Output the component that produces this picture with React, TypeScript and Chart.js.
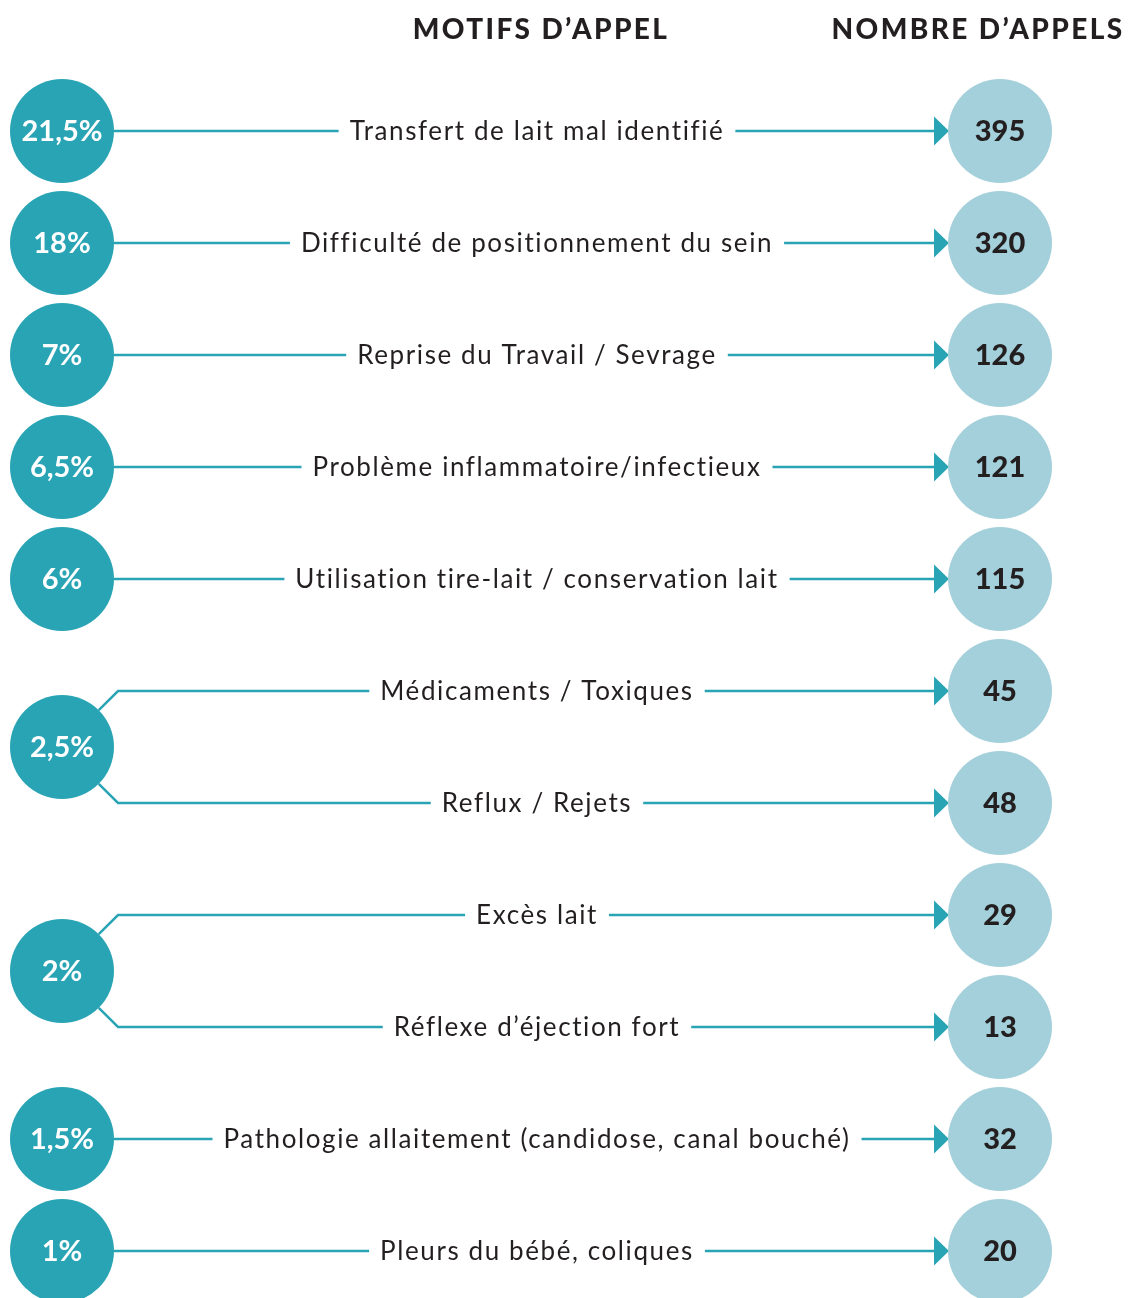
import { useEffect, useRef } from "react";
import { Chart, registerables } from "chart.js";

Chart.register(...registerables);

// ---- Data ----
const titres = ["MOTIFS D’APPEL", "NOMBRE D’APPELS"];
const motifs = [
  "Transfert de lait mal identifié",
  "Difficulté de positionnement du sein",
  "Reprise du Travail / Sevrage",
  "Problème inflammatoire/infectieux",
  "Utilisation tire-lait / conservation lait",
  "Médicaments / Toxiques",
  "Reflux / Rejets",
  "Excès lait",
  "Réflexe d’éjection fort",
  "Pathologie allaitement (candidose, canal bouché)",
  "Pleurs du bébé, coliques",
];
const nombres = [395, 320, 126, 121, 115, 45, 48, 29, 13, 32, 20];
const pourcentages = ["21,5%", "18%", "7%", "6,5%", "6%", "2,5%", "2%", "1,5%", "1%"];
const groupesLignes = [[0], [1], [2], [3], [4], [5, 6], [7, 8], [9], [10]];

// ---- Layout / style ----
const W = 1129;
const H = 1298;
const ROW0 = 131;
const ROWSTEP = 112;
const LEFT_X = 62;
const RIGHT_X = 1000;
const TEXT_X = 537;
const R = 52;
const GAP = 11;
const ARROW_L = 14;
const ARROW_H = 14.5;
const TEAL = "#29a4b4";
const LIGHT = "#a3d0db";
const DARK = "#231f20";
const FONT_LABEL = "400 26px Lato";
const LS_LABEL = "1.6px";
const FONT_PCT = "700 29px Lato";
const FONT_NUM = "900 29px Lato";
const FONT_TITLE = "900 28px Lato";

const mean = (g: number[]) => g.reduce((a, b) => a + b, 0) / g.length;

const infographie = {
  id: "infographie",
  beforeDatasetsDraw(chart: any) {
    const ctx = chart.ctx as CanvasRenderingContext2D;
    const xs = chart.scales.x;
    const ys = chart.scales.y;
    const xL = xs.getPixelForValue(LEFT_X);
    const xR = xs.getPixelForValue(RIGHT_X);
    const xT = xs.getPixelForValue(TEXT_X);
    ctx.save();
    ctx.font = FONT_LABEL;
    (ctx as any).letterSpacing = LS_LABEL;
    ctx.strokeStyle = TEAL;
    ctx.fillStyle = TEAL;
    ctx.lineWidth = 2.5;
    groupesLignes.forEach((g) => {
      const cy = ys.getPixelForValue(mean(g));
      g.forEach((i) => {
        const y = ys.getPixelForValue(i);
        const w = ctx.measureText(motifs[i]).width;
        const ts = xT - w / 2 - GAP;
        const te = xT + w / 2 + GAP;
        ctx.beginPath();
        if (g.length === 1) {
          ctx.moveTo(xL + R, y);
        } else {
          const d = R * Math.SQRT1_2;
          const sign = y < cy ? -1 : 1;
          const ex = xL + d;
          const ey = cy + sign * d;
          const rest = Math.abs(y - ey);
          ctx.moveTo(ex, ey);
          ctx.lineTo(ex + rest, y);
        }
        ctx.lineTo(ts, y);
        ctx.stroke();
        ctx.beginPath();
        ctx.moveTo(te, y);
        ctx.lineTo(xR - R - ARROW_L + 1, y);
        ctx.stroke();
        ctx.beginPath();
        ctx.moveTo(xR - R + 1, y);
        ctx.lineTo(xR - R - ARROW_L, y - ARROW_H);
        ctx.lineTo(xR - R - ARROW_L, y + ARROW_H);
        ctx.closePath();
        ctx.fill();
      });
    });
    ctx.restore();
  },
  afterDatasetsDraw(chart: any) {
    const ctx = chart.ctx as CanvasRenderingContext2D;
    const xs = chart.scales.x;
    const ys = chart.scales.y;
    const xL = xs.getPixelForValue(LEFT_X);
    const xR = xs.getPixelForValue(RIGHT_X);
    const xT = xs.getPixelForValue(TEXT_X);
    ctx.save();
    ctx.textAlign = "center";
    ctx.textBaseline = "middle";
    // titles
    ctx.font = FONT_TITLE;
    (ctx as any).letterSpacing = "2.4px";
    ctx.fillStyle = DARK;
    ctx.fillText(titres[0], 541, 30);
    ctx.fillText(titres[1], 978, 30);
    // labels
    ctx.font = FONT_LABEL;
    (ctx as any).letterSpacing = LS_LABEL;
    motifs.forEach((m, i) => {
      ctx.fillText(m, xT, ys.getPixelForValue(i) + 1);
    });
    // percentages
    ctx.font = FONT_PCT;
    (ctx as any).letterSpacing = "0px";
    ctx.fillStyle = "#ffffff";
    groupesLignes.forEach((g, k) => {
      ctx.fillText(pourcentages[k], xL, ys.getPixelForValue(mean(g)) + 1);
    });
    // counts
    ctx.font = FONT_NUM;
    ctx.fillStyle = DARK;
    nombres.forEach((n, i) => {
      ctx.fillText(String(n), xR, ys.getPixelForValue(i) + 1);
    });
    ctx.restore();
  },
};

export default function App() {
  const ref = useRef<HTMLCanvasElement>(null);
  useEffect(() => {
    if (!ref.current) return;
    const yMin = -ROW0 / ROWSTEP;
    const yMax = yMin + H / ROWSTEP;
    const chart = new Chart(ref.current, {
      type: "bubble",
      data: {
        datasets: [
          {
            label: "Pourcentage",
            data: groupesLignes.map((g) => ({ x: LEFT_X, y: mean(g), r: R })),
            backgroundColor: TEAL,
            borderWidth: 0,
            clip: false as any,
          },
          {
            label: "Nombre d'appels",
            data: nombres.map((_, i) => ({ x: RIGHT_X, y: i, r: R })),
            backgroundColor: LIGHT,
            borderWidth: 0,
            clip: false as any,
          },
        ],
      },
      options: {
        responsive: false,
        animation: false,
        events: [],
        layout: { padding: 0, autoPadding: false } as any,
        plugins: { legend: { display: false }, tooltip: { enabled: false } },
        scales: {
          x: { type: "linear", display: false, min: 0, max: W },
          y: { type: "linear", display: false, reverse: true, min: yMin, max: yMax },
        },
      },
      plugins: [infographie],
    });
    return () => chart.destroy();
  }, []);
  return (
    <div style={{ position: "absolute", left: 0, top: 0, width: W, height: H, background: "#fff" }}>
      <canvas ref={ref} width={W} height={H} />
    </div>
  );
}
